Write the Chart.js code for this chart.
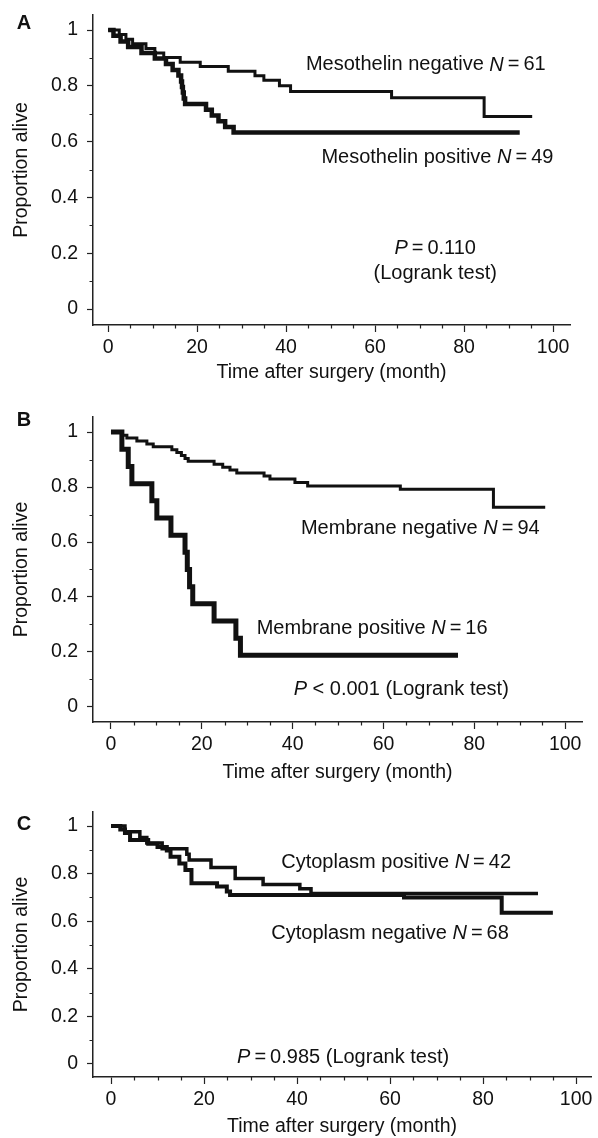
<!DOCTYPE html>
<html><head><meta charset="utf-8">
<script src="https://cdn.jsdelivr.net/npm/chart.js@4.4.1/dist/chart.umd.min.js"></script>
<style>
html,body{margin:0;padding:0;background:#fff;}
body{width:598px;height:1138px;position:relative;overflow:hidden;}
canvas{position:absolute;left:0;}
</style></head>
<body>
<canvas id="cA" width="598" height="395" style="top:0px"></canvas>
<canvas id="cB" width="598" height="390" style="top:395px"></canvas>
<canvas id="cC" width="598" height="353" style="top:785px"></canvas>
<script>
// ---------- Data ----------
// Panel A: Mesothelin
const aNegTime = [0, 2.5, 4, 5.5, 8.5, 10.5, 12.5, 16.2, 20.7, 27, 33, 35, 38.5, 41, 63.7, 84.5, 95.3];
const aNegSurv = [1, 0.984, 0.967, 0.951, 0.934, 0.918, 0.902, 0.885, 0.869, 0.852, 0.836, 0.820, 0.800, 0.780, 0.757, 0.690, 0.690];
const aPosTime = [0, 1.2, 2.8, 4.5, 7.5, 10.5, 13, 14.5, 15.8, 16.4, 16.6, 16.8, 17.0, 17.3, 22, 23.3, 24.8, 26.3, 28.2, 92.5];
const aPosSurv = [1, 0.980, 0.959, 0.939, 0.918, 0.898, 0.878, 0.857, 0.837, 0.816, 0.796, 0.776, 0.755, 0.735, 0.714, 0.694, 0.673, 0.653, 0.633, 0.633];
// Panel B: Membrane
const bNegTime = [0, 2.4, 3.5, 5.7, 7.9, 9.3, 13.4, 14.5, 15.5, 16.3, 17, 22.7, 24.6, 26.2, 27.7, 33.7, 35, 40.5, 43.3, 63.7, 84.2, 95.6];
const bNegSurv = [1, 0.989, 0.979, 0.968, 0.957, 0.947, 0.936, 0.926, 0.915, 0.904, 0.894, 0.883, 0.872, 0.862, 0.851, 0.840, 0.829, 0.817, 0.804, 0.792, 0.727, 0.727];
const bPosTime = [0, 2.4, 3.8, 4.6, 9, 10.1, 13.2, 16.3, 16.8, 17.3, 18, 22.7, 27.5, 28.5, 76.4];
const bPosSurv = [1, 0.9375, 0.875, 0.8125, 0.75, 0.6875, 0.625, 0.5625, 0.5, 0.4375, 0.375, 0.3125, 0.25, 0.1875, 0.1875];
// Panel C: Cytoplasm
const cPosTime = [0, 3, 6.2, 7.7, 11, 16.3, 16.8, 21.5, 26.7, 32.7, 40.6, 43, 91.8];
const cPosSurv = [1, 0.976, 0.952, 0.929, 0.905, 0.881, 0.857, 0.826, 0.779, 0.754, 0.736, 0.716, 0.716];
const cNegTime = [0, 2, 3, 4.1, 8, 10, 12, 12.8, 14.7, 16, 17.3, 22.8, 24.9, 25.6, 63, 84, 95];
const cNegSurv = [1, 0.985, 0.971, 0.941, 0.926, 0.912, 0.897, 0.871, 0.843, 0.815, 0.760, 0.746, 0.725, 0.710, 0.700, 0.635, 0.635];

// Axis tick labels
const xTickLabels = ['0', '20', '40', '60', '80', '100'];
const yTickLabels = ['0', '0.2', '0.4', '0.6', '0.8', '1'];
const xAxisTitle = 'Time after surgery (month)';
const yAxisTitle = 'Proportion alive';

// Annotation texts (*...* = italic)
const aNotes = ['Mesothelin negative *N*\u2009=\u200961', 'Mesothelin positive *N*\u2009=\u200949', '*P*\u2009=\u20090.110', '(Logrank test)'];
const bNotes = ['Membrane negative *N*\u2009=\u200994', 'Membrane positive *N*\u2009=\u200916', '*P* < 0.001 (Logrank test)'];
const cNotes = ['Cytoplasm positive *N*\u2009=\u200942', 'Cytoplasm negative *N*\u2009=\u200968', '*P*\u2009=\u20090.985 (Logrank test)'];

// ---------- Rendering ----------
const FONT = '"Liberation Sans", Arial, Helvetica, sans-serif';
const INK = '#111';
const FS = 19.5;
const NS = 20;

function toXY(t, s) { return t.map((v, i) => ({x: v, y: s[i]})); }

function drawRich(ctx, str, cx, cy, size) {
  const parts = str.split('*').map((t, k) => ({t, i: k % 2 === 1})).filter(p => p.t.length);
  let total = 0;
  const w = parts.map(p => { ctx.font = (p.i ? 'italic ' : '') + size + 'px ' + FONT; const m = ctx.measureText(p.t).width; total += m; return m; });
  let x = cx - total / 2;
  ctx.textBaseline = 'middle'; ctx.textAlign = 'left'; ctx.fillStyle = INK;
  parts.forEach((p, k) => { ctx.font = (p.i ? 'italic ' : '') + size + 'px ' + FONT; ctx.fillText(p.t, x, cy); x += w[k]; });
}

const decor = {
  id: 'decor',
  afterDraw(chart, args, opts) {
    const ctx = chart.ctx, xs = chart.scales.x, ys = chart.scales.y;
    ctx.save();
    ctx.strokeStyle = '#222'; ctx.lineWidth = 1.2;
    ctx.beginPath();
    for (let v = 5; v <= 100; v += 5) {
      if (v % 20 === 0) continue;
      const px = Math.round(xs.getPixelForValue(v)) + 0.5;
      ctx.moveTo(px, xs.top); ctx.lineTo(px, xs.top + 3.5);
    }
    for (let k = 1; k < 10; k += 2) {
      const py = Math.round(ys.getPixelForValue(k / 10)) + 0.5;
      ctx.moveTo(ys.right, py); ctx.lineTo(ys.right - 3.5, py);
    }
    ctx.stroke();
    opts.notes.forEach((n, i) => {
      drawRich(ctx, n, xs.getPixelForValue(opts.nx[i]), ys.getPixelForValue(opts.ny[i]), NS);
    });
    ctx.font = 'bold 20px ' + FONT; ctx.textAlign = 'center'; ctx.textBaseline = 'middle'; ctx.fillStyle = INK;
    ctx.fillText(opts.letter, opts.lx, opts.ly);
    ctx.restore();
  }
};

function makePanel(id, cfg) {
  const H = document.getElementById(id).height;
  return new Chart(document.getElementById(id), {
    type: 'line',
    data: { datasets: cfg.series.map(s => ({
      data: toXY(s.t, s.s), borderColor: '#111', borderWidth: s.w, pointRadius: 0,
      stepped: true, fill: false, tension: 0, borderJoinStyle: 'miter', borderCapStyle: 'butt'
    })) },
    options: {
      responsive: false, animation: false, devicePixelRatio: 1,
      layout: { padding: { top: cfg.top, right: 598 - cfg.right, left: 0, bottom: 0 } },
      plugins: { legend: { display: false }, tooltip: { enabled: false },
        decor: { notes: cfg.notes, nx: cfg.nx, ny: cfg.ny, letter: cfg.letter, lx: 24, ly: cfg.ly } },
      scales: {
        x: {
          type: 'linear', min: cfg.xmin, max: cfg.xmax,
          afterFit: s => { s.height = H - cfg.bottom; s.paddingLeft = 0; s.paddingRight = 0; },
          ticks: { stepSize: 20, includeBounds: false, autoSkip: false, maxRotation: 0, padding: 4, color: INK,
            font: { family: FONT, size: FS },
            callback: v => { const i = Math.round(v / 20); return (Math.abs(v - i * 20) < 1e-6 && xTickLabels[i] !== undefined) ? xTickLabels[i] : ''; } },
          grid: { drawOnChartArea: false, drawTicks: true, tickLength: 7, tickColor: '#222', tickWidth: 1.2 },
          border: { display: true, color: '#222', width: 1.5 },
          title: { display: true, text: xAxisTitle, color: INK, font: { family: FONT, size: FS }, padding: { top: 0, bottom: cfg.xtPad } }
        },
        y: {
          type: 'linear', min: cfg.ymin, max: cfg.ymax,
          afterFit: s => { s.width = 93; s.paddingTop = 0; s.paddingBottom = 0; },
          ticks: { stepSize: 0.2, includeBounds: false, autoSkip: false, padding: 9, color: INK,
            font: { family: FONT, size: FS },
            callback: v => { const i = Math.round(v / 0.2); return (Math.abs(v - i * 0.2) < 1e-6 && yTickLabels[i] !== undefined) ? yTickLabels[i] : ''; } },
          grid: { drawOnChartArea: false, drawTicks: true, tickLength: 6, tickColor: '#222', tickWidth: 1.2 },
          border: { display: true, color: '#222', width: 1.5 },
          title: { display: true, text: yAxisTitle, color: INK, font: { family: FONT, size: FS }, padding: { top: 10, bottom: 0 } }
        }
      }
    },
    plugins: [decor]
  });
}

makePanel('cA', {
  series: [{t: aNegTime, s: aNegSurv, w: 3}, {t: aPosTime, s: aPosSurv, w: 4.5}],
  top: 15, bottom: 325, right: 570, xmin: -3.4, xmax: 103.8, ymin: -0.057, ymax: 1.054, xtPad: 11,
  notes: aNotes, nx: [71.4, 74.0, 73.5, 73.5], ny: [0.875, 0.545, 0.219, 0.129], letter: 'A', ly: 23
});
makePanel('cB', {
  series: [{t: bNegTime, s: bNegSurv, w: 3}, {t: bPosTime, s: bPosSurv, w: 5}],
  top: 22, bottom: 327, right: 582, xmin: -3.96, xmax: 103.7, ymin: -0.055, ymax: 1.055, xtPad: 1,
  notes: bNotes, nx: [68.1, 57.5, 63.9], ny: [0.651, 0.287, 0.062], letter: 'B', ly: 25
});
makePanel('cC', {
  series: [{t: cPosTime, s: cPosSurv, w: 3.5}, {t: cNegTime, s: cNegSurv, w: 4}],
  top: 27, bottom: 292, right: 591, xmin: -3.87, xmax: 103.2, ymin: -0.055, ymax: 1.059, xtPad: 0,
  notes: cNotes, nx: [61.3, 60.0, 49.9], ny: [0.845, 0.55, 0.029], letter: 'C', ly: 39
});
</script>
</body></html>
